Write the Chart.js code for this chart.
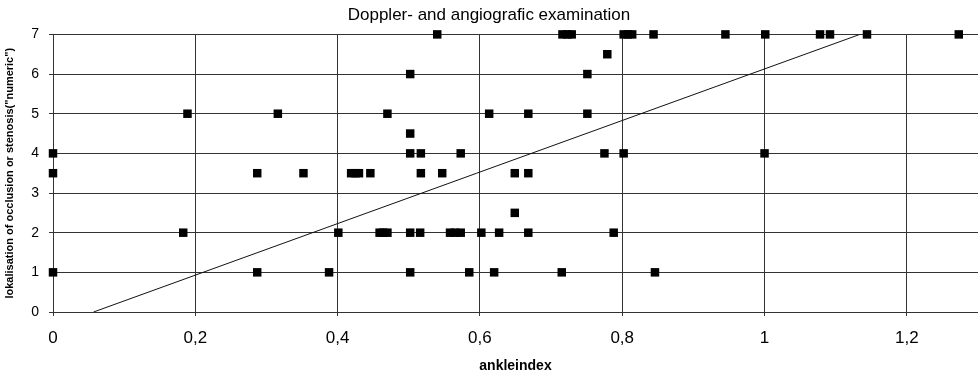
<!DOCTYPE html>
<html>
<head>
<meta charset="utf-8">
<script src="https://cdn.jsdelivr.net/npm/chart.js@4.4.1/dist/chart.umd.min.js"></script>
<style>
  body { margin: 0; background: #fff; }
  #wrap { width: 978px; height: 375px; position: relative; }
</style>
</head>
<body>
<div id="wrap"><canvas id="myChart"></canvas></div>
<script>
// ankle index (x) and localisation score (y)
var ankleIndex = [
  0.540, 0.716, 0.723, 0.729, 0.802, 0.808, 0.814, 0.844, 0.945, 1.001, 1.078, 1.092, 1.144, 1.273,
  0.779,
  0.502, 0.751,
  0.189, 0.316, 0.470, 0.613, 0.668, 0.751,
  0.502,
  0, 0.502, 0.517, 0.573, 0.775, 0.802, 1.0,
  0, 0.287, 0.352, 0.419, 0.425, 0.430, 0.446, 0.517, 0.547, 0.649, 0.668,
  0.649,
  0.183, 0.401, 0.459, 0.464, 0.470, 0.502, 0.516, 0.558, 0.565, 0.573, 0.602, 0.627, 0.668, 0.788,
  0, 0.287, 0.388, 0.502, 0.585, 0.620, 0.715, 0.846
];
var localisation = [
  7, 7, 7, 7, 7, 7, 7, 7, 7, 7, 7, 7, 7, 7,
  6.5,
  6, 6,
  5, 5, 5, 5, 5, 5,
  4.5,
  4, 4, 4, 4, 4, 4, 4,
  3.5, 3.5, 3.5, 3.5, 3.5, 3.5, 3.5, 3.5, 3.5, 3.5, 3.5,
  2.5,
  2, 2, 2, 2, 2, 2, 2, 2, 2, 2, 2, 2, 2, 2,
  1, 1, 1, 1, 1, 1, 1, 1
];

// regression line end points
var trendX = [0.057, 1.134];
var trendY = [0, 7];

var xTicks = [0, 0.2, 0.4, 0.6, 0.8, 1, 1.2];

var scatterPoints = ankleIndex.map(function (x, i) { return { x: x, y: localisation[i] }; });
var trendPoints = trendX.map(function (x, i) { return { x: x, y: trendY[i] }; });

var font = "'Liberation Sans', Arial, sans-serif";

const ctx = document.getElementById('myChart');
const myChart = new Chart(ctx, {
  type: 'scatter',
  data: {
    datasets: [
      {
        label: 'examinations',
        data: scatterPoints,
        pointStyle: 'rect',
        pointRadius: 6,
        pointBorderWidth: 0,
        backgroundColor: '#000',
        borderColor: '#000',
        clip: false
      },
      {
        label: 'trend',
        data: trendPoints,
        showLine: true,
        pointRadius: 0,
        borderColor: '#111',
        borderWidth: 1,
        fill: false
      }
    ]
  },
  options: {
    responsive: true,
    maintainAspectRatio: false,
    animation: false,
    layout: { padding: 0, autoPadding: false },
    plugins: {
      legend: { display: false },
      tooltip: { enabled: false },
      title: {
        display: true,
        text: 'Doppler- and angiografic examination',
        color: '#000',
        font: { family: font, size: 17, weight: 'normal' },
        padding: { top: 5, bottom: 9 }
      }
    },
    scales: {
      x: {
        type: 'linear',
        min: 0,
        max: 1.3,
        afterBuildTicks: function (scale) {
          scale.ticks = xTicks.map(function (v) { return { value: v }; });
        },
        afterFit: function (scale) { scale.height = 63; },
        ticks: {
          color: '#000',
          font: { family: font, size: 17 },
          padding: 12,
          maxRotation: 0,
          callback: function (v) { return String(v).replace('.', ','); }
        },
        grid: { color: '#333', lineWidth: 1, tickLength: 4 },
        border: { display: true, color: '#333' },
        title: {
          display: true,
          text: 'ankleindex',
          color: '#000',
          font: { family: font, size: 14, weight: 'bold' },
          padding: { top: 0, bottom: 0 }
        }
      },
      y: {
        min: 0,
        max: 7,
        afterFit: function (scale) { scale.width = 53; },
        ticks: {
          stepSize: 1,
          color: '#000',
          font: { family: font, size: 14 },
          padding: 10
        },
        grid: { color: '#333', lineWidth: 1, tickLength: 4 },
        border: { display: true, color: '#333' },
        title: {
          display: true,
          text: 'lokalisation of occlusion or stenosis("numeric")',
          color: '#000',
          font: { family: font, size: 11, weight: 'bold' },
          padding: { top: 3, bottom: 0 }
        }
      }
    }
  }
});
</script>
</body>
</html>
